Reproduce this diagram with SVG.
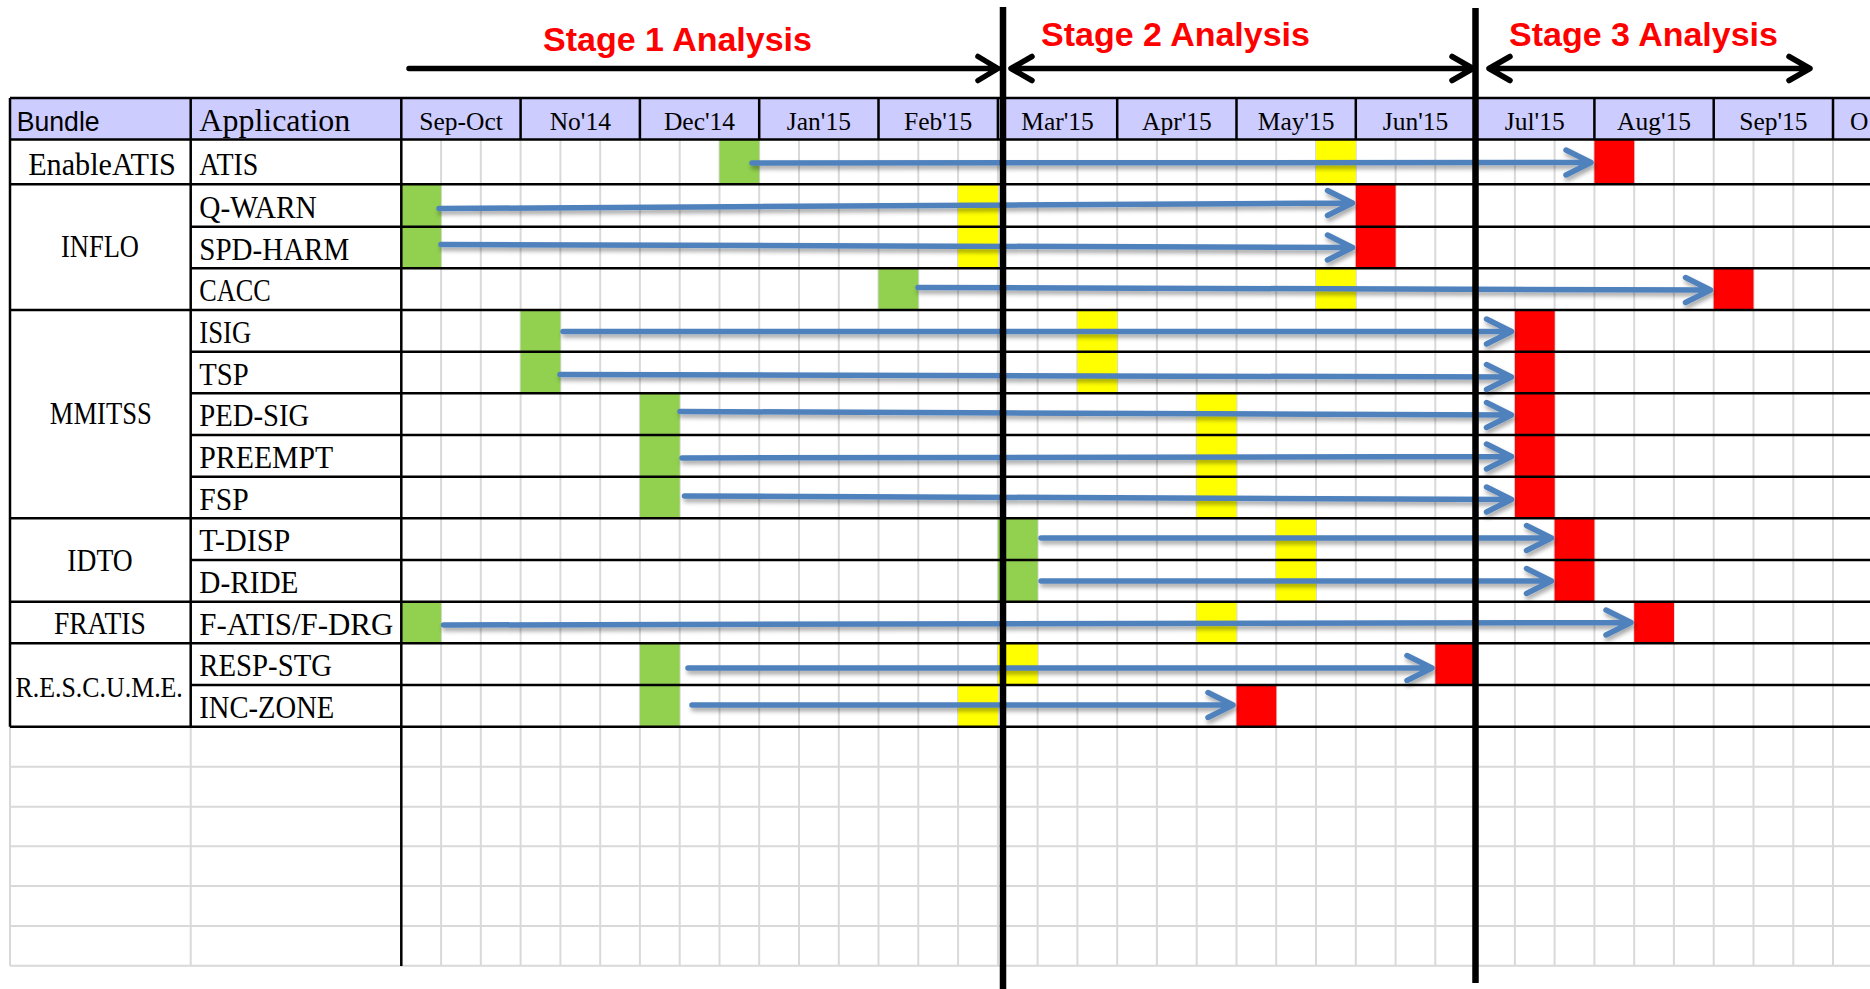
<svg xmlns="http://www.w3.org/2000/svg" width="1870" height="989" viewBox="0 0 1870 989">
<defs>
<style>
.hdr{fill:#ccccff}
.g{fill:#92d050}.y{fill:#ffff00}.r{fill:#ff0000}
.grid{stroke:#d9d9d9;stroke-width:2;fill:none}
.bl{stroke:#000;stroke-width:2.5;fill:none}
.stage{stroke:#000;stroke-width:6.5;fill:none}
.sa{stroke:#000;stroke-width:5.5;fill:none;stroke-linecap:round;stroke-linejoin:round}
.arr{stroke:#4f81bd;stroke-width:5.5;fill:none;stroke-linecap:round;stroke-linejoin:round}
.st{font-family:"Liberation Sans",Arial,sans-serif;font-weight:bold;font-size:34px;fill:#ff0000;text-anchor:middle}
.mo{font-family:"Liberation Serif","Times New Roman",serif;font-size:25.5px;fill:#000;text-anchor:middle}
.lb{font-family:"Liberation Serif","Times New Roman",serif;font-size:31px;fill:#000}
.bd{font-family:"Liberation Serif","Times New Roman",serif;font-size:31px;fill:#000;text-anchor:middle}
.hs{font-family:"Liberation Sans",Arial,sans-serif;font-size:28px;fill:#000}
</style>
<filter id="sh" filterUnits="userSpaceOnUse" x="0" y="0" width="1870" height="989">
<feDropShadow dx="1.5" dy="3.5" stdDeviation="2" flood-color="#000" flood-opacity="0.35"/>
</filter>
</defs>
<rect width="1870" height="989" fill="#fff"/>

<g id="header">
<rect class="hdr" x="10" y="98" width="1860" height="41.5"/>
<text class="hs" x="16.7" y="131" textLength="83" lengthAdjust="spacingAndGlyphs">Bundle</text>
<text class="lb" x="199.3" y="131" textLength="151" lengthAdjust="spacingAndGlyphs">Application</text>
<text class="mo" x="461" y="130">Sep-Oct</text>
<text class="mo" x="580.3" y="130">No'14</text>
<text class="mo" x="699.5" y="130">Dec'14</text>
<text class="mo" x="818.9" y="130">Jan'15</text>
<text class="mo" x="938.2" y="130">Feb'15</text>
<text class="mo" x="1057.5" y="130">Mar'15</text>
<text class="mo" x="1176.9" y="130">Apr'15</text>
<text class="mo" x="1296.2" y="130">May'15</text>
<text class="mo" x="1415.5" y="130">Jun'15</text>
<text class="mo" x="1534.8" y="130">Jul'15</text>
<text class="mo" x="1654.1" y="130">Aug'15</text>
<text class="mo" x="1773.4" y="130">Sep'15</text>
<text class="mo" x="1850" y="130" style="text-anchor:start">O</text>
</g>

<g id="grid">
<path class="grid" d="M441.1 139.5V966M480.8 139.5V966M520.6 139.5V966M560.4 139.5V966M600.2 139.5V966M639.9 139.5V966M679.7 139.5V966M719.5 139.5V966M759.2 139.5V966M799 139.5V966M838.8 139.5V966M878.5 139.5V966M918.3 139.5V966M958.1 139.5V966M997.9 139.5V966M1037.6 139.5V966M1077.4 139.5V966M1117.2 139.5V966M1156.9 139.5V966M1196.7 139.5V966M1236.5 139.5V966M1276.2 139.5V966M1316 139.5V966M1355.8 139.5V966M1395.6 139.5V966M1435.3 139.5V966M1475.1 139.5V966M1514.9 139.5V966M1554.6 139.5V966M1594.4 139.5V966M1634.2 139.5V966M1673.9 139.5V966M1713.7 139.5V966M1753.5 139.5V966M1793.3 139.5V966M1833 139.5V966"/>
<path class="grid" d="M10 766.7H1870M10 806.7H1870M10 846.3H1870M10 886H1870M10 926H1870M10 965.7H1870M10 726.7V966M190.7 726.7V966"/>
</g>

<g id="bundle-enableatis">
<text class="bd" x="102" y="175" textLength="147.7" lengthAdjust="spacingAndGlyphs">EnableATIS</text>
</g>
<g id="row-atis">
<rect class="g" x="719.5" y="139.5" width="39.8" height="44.8"/>
<rect class="y" x="1316" y="139.5" width="39.8" height="44.8"/>
<rect class="r" x="1594.4" y="139.5" width="39.8" height="44.8"/>
<text class="lb" x="199.3" y="175" textLength="59" lengthAdjust="spacingAndGlyphs">ATIS</text>
</g>

<g id="bundle-inflo">
<text class="bd" x="100" y="257.3" textLength="78" lengthAdjust="spacingAndGlyphs">INFLO</text>
</g>
<g id="row-q-warn">
<rect class="g" x="401.3" y="184.3" width="39.8" height="42.4"/>
<rect class="y" x="958.1" y="184.3" width="39.8" height="42.4"/>
<rect class="r" x="1355.8" y="184.3" width="39.8" height="42.4"/>
<text class="lb" x="199.3" y="217.5" textLength="117.5" lengthAdjust="spacingAndGlyphs">Q-WARN</text>
</g>
<g id="row-spd-harm">
<rect class="g" x="401.3" y="226.7" width="39.8" height="41.6"/>
<rect class="y" x="958.1" y="226.7" width="39.8" height="41.6"/>
<rect class="r" x="1355.8" y="226.7" width="39.8" height="41.6"/>
<text class="lb" x="199.3" y="259.5" textLength="150" lengthAdjust="spacingAndGlyphs">SPD-HARM</text>
</g>
<g id="row-cacc">
<rect class="g" x="878.5" y="268.3" width="39.8" height="41.7"/>
<rect class="y" x="1316" y="268.3" width="39.8" height="41.7"/>
<rect class="r" x="1713.7" y="268.3" width="39.8" height="41.7"/>
<text class="lb" x="199.3" y="301.3" textLength="71.4" lengthAdjust="spacingAndGlyphs">CACC</text>
</g>

<g id="bundle-mmitss">
<text class="bd" x="100.8" y="423.5" textLength="102" lengthAdjust="spacingAndGlyphs">MMITSS</text>
</g>
<g id="row-isig">
<rect class="g" x="520.6" y="310" width="39.8" height="41.7"/>
<rect class="y" x="1077.4" y="310" width="39.8" height="41.7"/>
<rect class="r" x="1514.9" y="310" width="39.8" height="41.7"/>
<text class="lb" x="199.3" y="343" textLength="52" lengthAdjust="spacingAndGlyphs">ISIG</text>
</g>
<g id="row-tsp">
<rect class="g" x="520.6" y="351.7" width="39.8" height="41.6"/>
<rect class="y" x="1077.4" y="351.7" width="39.8" height="41.6"/>
<rect class="r" x="1514.9" y="351.7" width="39.8" height="41.6"/>
<text class="lb" x="199.3" y="384.7" textLength="49.4" lengthAdjust="spacingAndGlyphs">TSP</text>
</g>
<g id="row-ped-sig">
<rect class="g" x="639.9" y="393.3" width="39.8" height="41.7"/>
<rect class="y" x="1196.7" y="393.3" width="39.8" height="41.7"/>
<rect class="r" x="1514.9" y="393.3" width="39.8" height="41.7"/>
<text class="lb" x="199.3" y="426.3" textLength="110" lengthAdjust="spacingAndGlyphs">PED-SIG</text>
</g>
<g id="row-preempt">
<rect class="g" x="639.9" y="435" width="39.8" height="41.7"/>
<rect class="y" x="1196.7" y="435" width="39.8" height="41.7"/>
<rect class="r" x="1514.9" y="435" width="39.8" height="41.7"/>
<text class="lb" x="199.3" y="468" textLength="134" lengthAdjust="spacingAndGlyphs">PREEMPT</text>
</g>
<g id="row-fsp">
<rect class="g" x="639.9" y="476.7" width="39.8" height="41.6"/>
<rect class="y" x="1196.7" y="476.7" width="39.8" height="41.6"/>
<rect class="r" x="1514.9" y="476.7" width="39.8" height="41.6"/>
<text class="lb" x="199.3" y="509.7" textLength="49.4" lengthAdjust="spacingAndGlyphs">FSP</text>
</g>

<g id="bundle-idto">
<text class="bd" x="100" y="570.5" textLength="65.3" lengthAdjust="spacingAndGlyphs">IDTO</text>
</g>
<g id="row-t-disp">
<rect class="g" x="997.9" y="518.3" width="39.8" height="41.7"/>
<rect class="y" x="1276.2" y="518.3" width="39.8" height="41.7"/>
<rect class="r" x="1554.6" y="518.3" width="39.8" height="41.7"/>
<text class="lb" x="199.3" y="551.3" textLength="91" lengthAdjust="spacingAndGlyphs">T-DISP</text>
</g>
<g id="row-d-ride">
<rect class="g" x="997.9" y="560" width="39.8" height="41.7"/>
<rect class="y" x="1276.2" y="560" width="39.8" height="41.7"/>
<rect class="r" x="1554.6" y="560" width="39.8" height="41.7"/>
<text class="lb" x="199.3" y="593" textLength="99.2" lengthAdjust="spacingAndGlyphs">D-RIDE</text>
</g>

<g id="bundle-fratis">
<text class="bd" x="99.8" y="634" textLength="91.8" lengthAdjust="spacingAndGlyphs">FRATIS</text>
</g>
<g id="row-f-atis">
<rect class="g" x="401.3" y="601.7" width="39.8" height="41.6"/>
<rect class="y" x="1196.7" y="601.7" width="39.8" height="41.6"/>
<rect class="r" x="1634.2" y="601.7" width="39.8" height="41.6"/>
<text class="lb" x="199.3" y="634.7" textLength="194" lengthAdjust="spacingAndGlyphs">F-ATIS/F-DRG</text>
</g>

<g id="bundle-rescume">
<text class="bd" x="99.2" y="697" style="font-size:29px" textLength="167.3" lengthAdjust="spacingAndGlyphs">R.E.S.C.U.M.E.</text>
</g>
<g id="row-resp-stg">
<rect class="g" x="639.9" y="643.3" width="39.8" height="41.7"/>
<rect class="y" x="997.9" y="643.3" width="39.8" height="41.7"/>
<rect class="r" x="1435.3" y="643.3" width="39.8" height="41.7"/>
<text class="lb" x="199.3" y="676.3" textLength="132.7" lengthAdjust="spacingAndGlyphs">RESP-STG</text>
</g>
<g id="row-inc-zone">
<rect class="g" x="639.9" y="685" width="39.8" height="41.7"/>
<rect class="y" x="958.1" y="685" width="39.8" height="41.7"/>
<rect class="r" x="1236.5" y="685" width="39.8" height="41.7"/>
<text class="lb" x="199.3" y="718" textLength="135" lengthAdjust="spacingAndGlyphs">INC-ZONE</text>
</g>

<g id="table-lines">
<path class="bl" d="M10 98H1870M10 139.5H1870M10 184.3H1870M10 310H1870M10 518.3H1870M10 601.7H1870M10 643.3H1870M10 726.7H1870"/>
<path class="bl" d="M190.7 226.7H1870M190.7 268.3H1870M190.7 351.7H1870M190.7 393.3H1870M190.7 435H1870M190.7 476.7H1870M190.7 560H1870M190.7 685H1870"/>
<path class="bl" d="M10 98V726.7M190.7 98V726.7M401.3 98V966"/>
<path class="bl" d="M520.6 98V139.5M639.9 98V139.5M759.2 98V139.5M878.5 98V139.5M997.9 98V139.5M1117.2 98V139.5M1236.5 98V139.5M1355.8 98V139.5M1475.1 98V139.5M1594.4 98V139.5M1713.7 98V139.5M1833 98V139.5"/>
</g>

<g id="connectors" filter="url(#sh)">
<path class="arr" d="M752 163L1591 162.5M1566 150L1591 162.5L1566 175"/>
<path class="arr" d="M439 208.5L1352.5 203M1327.5 190.5L1352.5 203L1327.5 215.5"/>
<path class="arr" d="M441 244.5L1352.5 247.5M1327.5 235L1352.5 247.5L1327.5 260"/>
<path class="arr" d="M918 287.5L1710.5 290M1685.5 277.5L1710.5 290L1685.5 302.5"/>
<path class="arr" d="M563 331.5L1511.5 331.5M1486.5 319L1511.5 331.5L1486.5 344"/>
<path class="arr" d="M560 374.5L1511.5 377M1486.5 364.5L1511.5 377L1486.5 389.5"/>
<path class="arr" d="M680 411.5L1511.5 415M1486.5 402.5L1511.5 415L1486.5 427.5"/>
<path class="arr" d="M682 458L1511.5 456.5M1486.5 444L1511.5 456.5L1486.5 469"/>
<path class="arr" d="M684.5 496L1511.5 499.5M1486.5 487L1511.5 499.5L1486.5 512"/>
<path class="arr" d="M1041 538L1551.5 538M1526.5 525.5L1551.5 538L1526.5 550.5"/>
<path class="arr" d="M1041 581L1551.5 581M1526.5 568.5L1551.5 581L1526.5 593.5"/>
<path class="arr" d="M443.5 625L1631 622.5M1606 610L1631 622.5L1606 635"/>
<path class="arr" d="M688 668L1432 668M1407 655.5L1432 668L1407 680.5"/>
<path class="arr" d="M692 705L1233 705M1208 692.5L1233 705L1208 717.5"/>
</g>

<g id="stages">
<path class="stage" d="M1003 7V989M1475.5 8V983"/>
<path class="sa" d="M409 68.5H998M978 56.5L998 68.5L978 80.5"/>
<path class="sa" d="M1011 68.5H1473M1032 56.5L1011 68.5L1032 80.5M1452 56.5L1473 68.5L1452 80.5"/>
<path class="sa" d="M1489 68.5H1810M1510 56.5L1489 68.5L1510 80.5M1789 56.5L1810 68.5L1789 80.5"/>
<text class="st" x="677.5" y="51">Stage 1 Analysis</text>
<text class="st" x="1175.5" y="46">Stage 2 Analysis</text>
<text class="st" x="1643.5" y="46">Stage 3 Analysis</text>
</g>
</svg>
